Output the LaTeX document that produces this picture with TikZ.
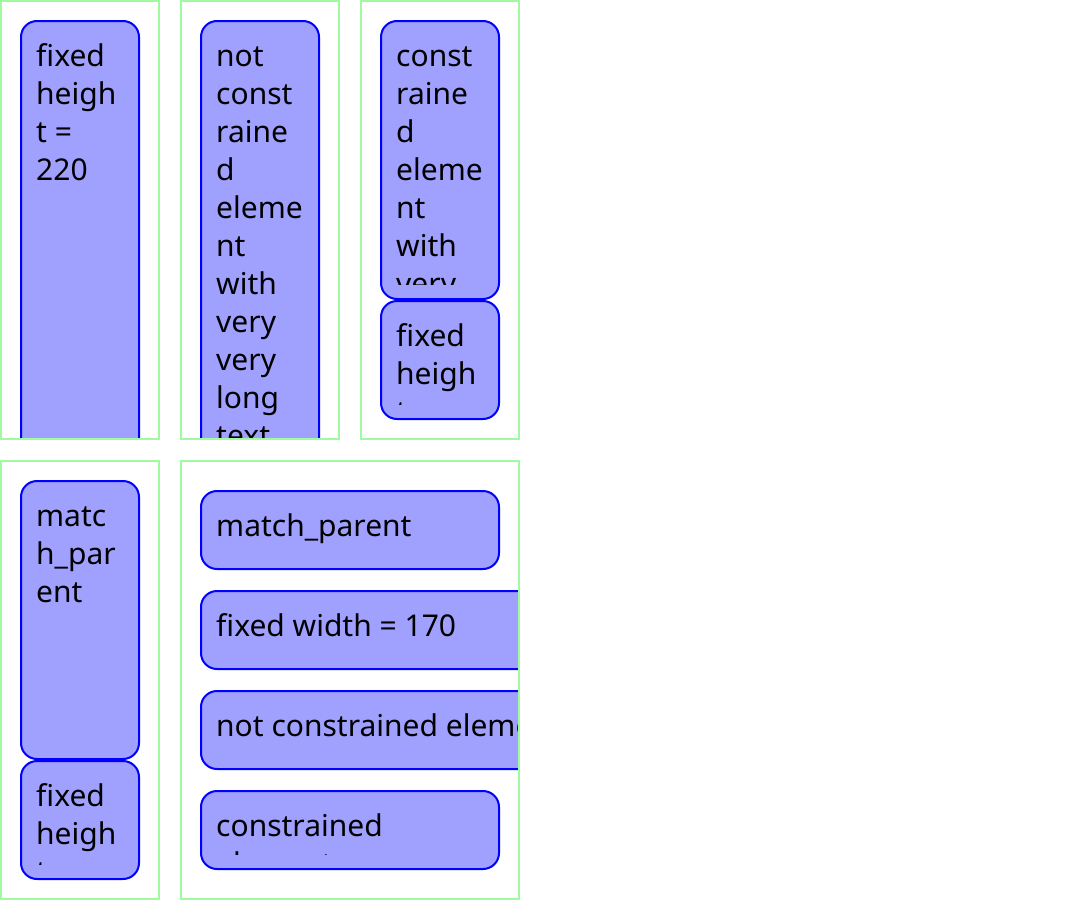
\documentclass[tikz,border=0pt]{standalone}
\usepackage{fontspec}
\setmainfont{Noto Sans}
\definecolor{framegreen}{RGB}{160,250,160}
\definecolor{boxfill}{RGB}{160,160,255}
\definecolor{boxline}{RGB}{0,0,255}
\tikzset{
  frame/.style={draw=framegreen, line width=2bp},
  elem/.style={draw=boxline, fill=boxfill, line width=2bp, rounded corners=16bp},
  lbl/.style={anchor=north west, inner sep=0pt, align=left, text=black,
    font=\fontsize{30bp}{38bp}\selectfont},
}
\begin{document}
\begin{tikzpicture}[x=1bp,y=-1bp]
\useasboundingbox (0,0) rectangle (1080,900);
% ---------- frame 1 ----------
\begin{scope}
  \clip (2,2) rectangle (158,438);
  \draw[elem] (21,21) rectangle (139,459);
  \begin{scope}
    \clip (36,36) rectangle (124,444);
    \node[lbl] (t1) at (36,39.9) {\strut fixed\\\strut heigh\\\strut t =\\\strut 220};
  \end{scope}
\end{scope}
\draw[frame] (1,1) rectangle (159,439);
% ---------- frame 2 ----------
\begin{scope}
  \clip (182,2) rectangle (338,438);
  \draw[elem] (201,21) rectangle (319,499);
  \begin{scope}
    \clip (216,36) rectangle (304,484);
    \node[lbl] (t2) at (216,39.9) {\strut not\\\strut const\\\strut raine\\\strut d\\\strut eleme\\\strut nt\\\strut with\\\strut very\\\strut very\\\strut long\\\strut text};
  \end{scope}
\end{scope}
\draw[frame] (181,1) rectangle (339,439);
% ---------- frame 3 ----------
\begin{scope}
  \clip (362,2) rectangle (518,438);
  \draw[elem] (381,21) rectangle (499,299);
  \begin{scope}
    \clip (396,36) rectangle (484,284);
    \node[lbl] (t3a) at (396,39.9) {\strut const\\\strut raine\\\strut d\\\strut eleme\\\strut nt\\\strut with\\\strut very\\\strut long\\\strut text};
  \end{scope}
  \draw[elem] (381,301) rectangle (499,419);
  \begin{scope}
    \clip (396,316) rectangle (484,404);
    \node[lbl] (t3b) at (396,319.9) {\strut fixed\\\strut heigh\\\strut t =\\\strut 60};
  \end{scope}
\end{scope}
\draw[frame] (361,1) rectangle (519,439);
% ---------- frame 4 ----------
\begin{scope}
  \clip (2,462) rectangle (158,898);
  \draw[elem] (21,481) rectangle (139,759);
  \begin{scope}
    \clip (36,496) rectangle (124,744);
    \node[lbl] (t4a) at (36,499.9) {\strut matc\\\strut h\_par\\\strut ent};
  \end{scope}
  \draw[elem] (21,761) rectangle (139,879);
  \begin{scope}
    \clip (36,776) rectangle (124,864);
    \node[lbl] (t4b) at (36,779.9) {\strut fixed\\\strut heigh\\\strut t =\\\strut 60};
  \end{scope}
\end{scope}
\draw[frame] (1,461) rectangle (159,899);
% ---------- frame 5 ----------
\begin{scope}
  \clip (182,462) rectangle (518,898);
  \draw[elem] (201,491) rectangle (499,569);
  \begin{scope}
    \clip (216,506) rectangle (484,554);
    \node[lbl] (t5a) at (216,509.9) {\strut match\_parent};
  \end{scope}
  \draw[elem] (201,591) rectangle (539,669);
  \begin{scope}
    \clip (216,606) rectangle (524,654);
    \node[lbl] (t5b) at (216,609.9) {\strut fixed width = 170};
  \end{scope}
  \draw[elem] (201,691) rectangle (900,769);
  \begin{scope}
    \clip (216,706) rectangle (884,754);
    \node[lbl] (t5c) at (216,709.9) {\strut not constrained element with very long text};
  \end{scope}
  \draw[elem] (201,791) rectangle (499,869);
  \begin{scope}
    \clip (216,806) rectangle (484,854);
    \node[lbl] (t5d) at (216,809.9) {\strut constrained\\\strut element};
  \end{scope}
\end{scope}
\draw[frame] (181,461) rectangle (519,899);
\end{tikzpicture}
\end{document}
